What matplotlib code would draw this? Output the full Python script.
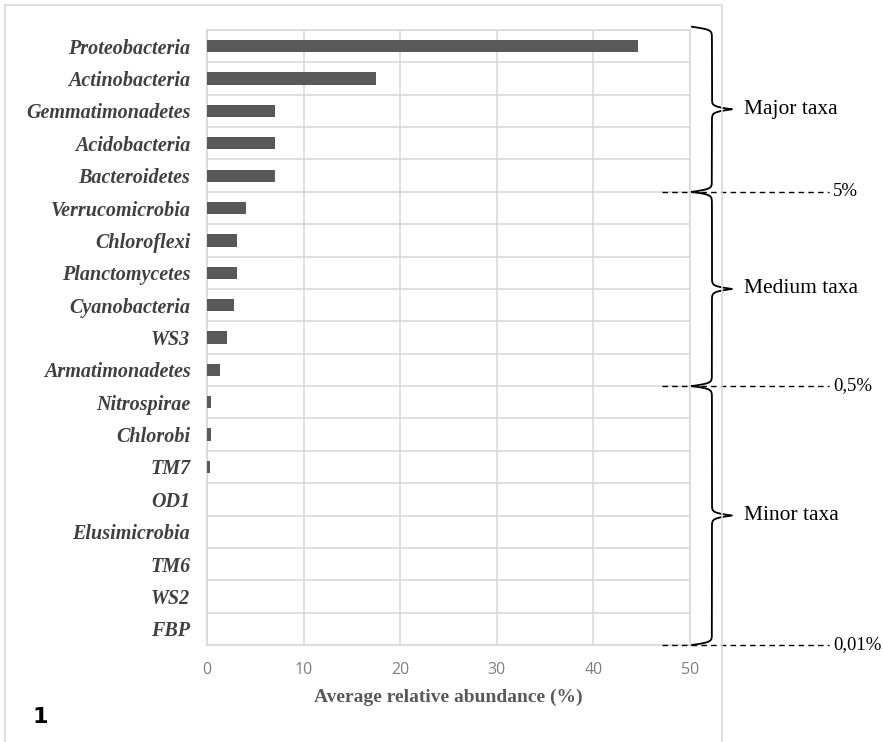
import matplotlib.pyplot as plt
import numpy as np
from matplotlib.patches import Rectangle

taxa = ["Proteobacteria", "Actinobacteria", "Gemmatimonadetes", "Acidobacteria",
        "Bacteroidetes", "Verrucomicrobia", "Chloroflexi", "Planctomycetes",
        "Cyanobacteria", "WS3", "Armatimonadetes", "Nitrospirae", "Chlorobi",
        "TM7", "OD1", "Elusimicrobia", "TM6", "WS2", "FBP"]
abundance = [44.6, 17.5, 7.0, 7.0, 7.0, 4.0, 3.1, 3.1, 2.8, 2.1, 1.3,
             0.4, 0.4, 0.3, 0.05, 0.04, 0.03, 0.02, 0.01]

# groups: (label, first row, last row, threshold label at bottom)
groups = [("Major taxa", 0, 4, "5%"),
          ("Medium taxa", 5, 10, "0,5%"),
          ("Minor taxa", 11, 18, "0,01%")]

GRID = "#d9d9d9"

fig = plt.figure(figsize=(8.83, 7.42), dpi=100)
fig.patches.append(Rectangle((5 / 883, -0.01), 717 / 883, 1 - 5 / 742 + 0.01,
                             transform=fig.transFigure, fill=False,
                             edgecolor=GRID, linewidth=1.2))

ax = fig.add_axes([207 / 883, 1 - 645 / 742, 483 / 883, 615 / 742])

y = np.arange(len(taxa))
ax.barh(y, abundance, height=0.38, color="#595959", zorder=3)

ax.set_xlim(0, 50)
ax.set_ylim(len(taxa) - 0.5, -0.5)
ax.set_xticks(range(0, 51, 10))
ax.set_yticks(y)
ax.set_yticklabels(taxa, fontfamily="Liberation Serif", fontstyle="italic",
                   fontweight="bold", fontsize=14.5, color="#404040")
ax.set_yticks(np.arange(-0.5, len(taxa), 1), minor=True)
ax.tick_params(axis="y", which="both", length=0, pad=12)
ax.tick_params(axis="x", length=0, pad=12, labelsize=11.5, labelcolor="#7f7f7f")
for lbl in ax.get_xticklabels():
    lbl.set_fontfamily("Open Sans")
ax.grid(axis="x", color=GRID, linewidth=1.2, zorder=0)
ax.grid(axis="y", which="minor", color=GRID, linewidth=1.2, zorder=0)
for sp in ax.spines.values():
    sp.set_color(GRID)
    sp.set_linewidth(1.2)

ax.set_xlabel("Average relative abundance (%)", fontfamily="Liberation Serif",
              fontweight="bold", fontsize=14, color="#595959", labelpad=8)

fig.text(40 / 883, 1 - 717 / 742, "1", fontfamily="DejaVu Sans", fontweight="bold",
         fontsize=16, ha="center", va="center")

# pixel scale of the axes, used to shape the braces
PX_X = 483 / 50          # px per x unit
PX_Y = 615 / len(taxa)   # px per row


def brace(ax, top, bottom, x_in, width_px=40, beta=0.7):
    # curly brace opening left, tip pointing right (logistic shape, in px)
    length = (bottom - top) * PX_Y
    n = 401
    s = np.linspace(0, length, n)
    half = s[: n // 2 + 1]
    xh = (1 / (1 + np.exp(-beta * (half - half[0])))
          + 1 / (1 + np.exp(-beta * (half - half[-1]))))
    xs = np.concatenate((xh, xh[-2::-1])) - 0.5
    ax.plot(x_in + xs * width_px / PX_X, top + s / PX_Y, color="black",
            linewidth=1.3, clip_on=False, zorder=5)
    return (top + bottom) / 2


for label, first, last, thr in groups:
    top = first - 0.5 - (0.1 if first == 0 else 0)
    bottom = last + 0.5
    mid = brace(ax, top, bottom, 50.2)
    ax.text(55.6, mid, label, fontfamily="Liberation Serif", fontsize=15.5,
            va="center", ha="left", clip_on=False)
    ax.plot([47.1, 64.4], [bottom, bottom], color="black", linestyle=(0, (4, 3)),
            linewidth=1, clip_on=False, zorder=4)
    ax.text(64.8, bottom, thr, fontfamily="Liberation Serif", fontsize=13.5,
            va="center", ha="left", clip_on=False)

fig.savefig("out.png", dpi=100)
